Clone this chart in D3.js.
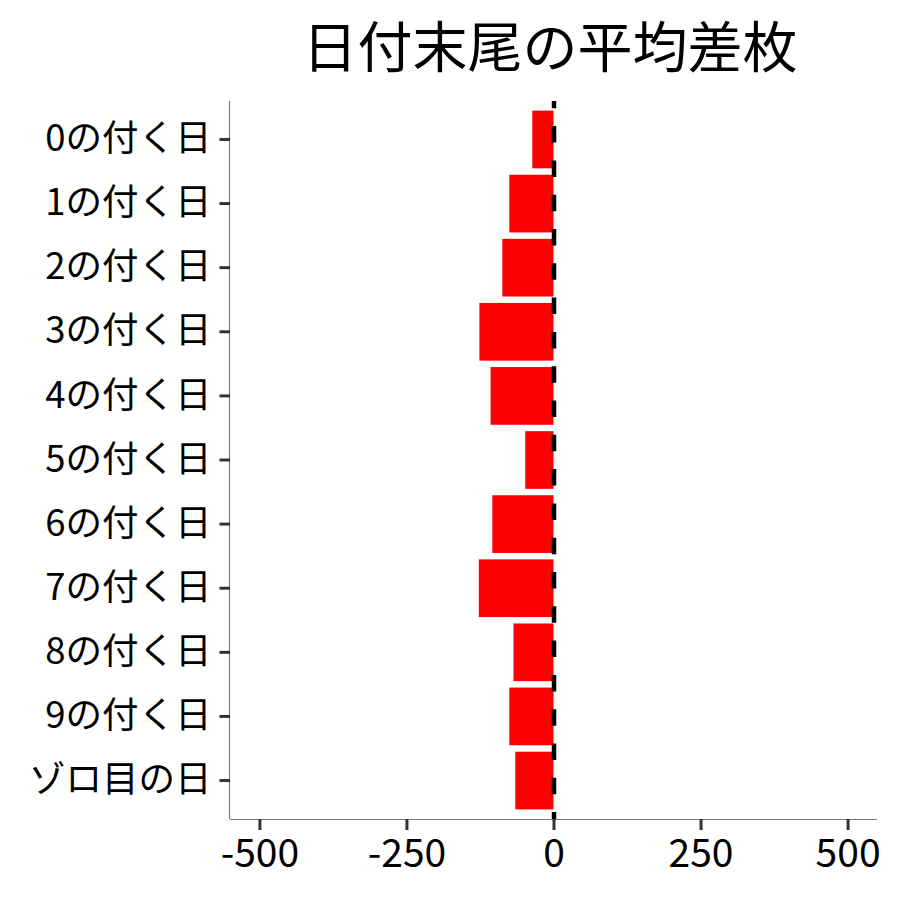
<!DOCTYPE html>
<html>
<head>
<meta charset="utf-8">
<script src="https://cdn.jsdelivr.net/npm/d3@7"></script>
<style>
  body { margin: 0; background: #fff; }
  text { font-family: "Noto Sans CJK JP", "Noto Sans", sans-serif; }
</style>
</head>
<body>
<div id="chart"></div>
<script>
const chartTitle = "日付末尾の平均差枚";
const categories = ["0の付く日", "1の付く日", "2の付く日", "3の付く日", "4の付く日",
  "5の付く日", "6の付く日", "7の付く日", "8の付く日", "9の付く日", "ゾロ目の日"];
const avgDiff = [-36, -75, -87, -126, -107, -48, -104, -127, -68, -75, -65];
const xTicks = [-500, -250, 0, 250, 500];

const width = 900, height = 900;
const panel = { left: 230, right: 877, top: 101, bottom: 819 };

const svg = d3.select("#chart").append("svg")
  .attr("width", width)
  .attr("height", height);

const x = d3.scaleLinear()
  .domain([-550, 550])
  .range([panel.left, panel.right]);

const y = d3.scaleBand()
  .domain(categories)
  .range([panel.top, panel.bottom])
  .paddingInner(0.1)
  .paddingOuter(0.15);

// bars
svg.append("g")
  .selectAll("rect")
  .data(categories)
  .join("rect")
  .attr("x", (d, i) => x(Math.min(0, avgDiff[i])))
  .attr("width", (d, i) => Math.abs(x(avgDiff[i]) - x(0)))
  .attr("y", d => y(d))
  .attr("height", y.bandwidth())
  .attr("fill", "#ff0000");

// zero reference line
svg.append("line")
  .attr("x1", x(0) + 0.5).attr("x2", x(0) + 0.5)
  .attr("y1", panel.top).attr("y2", panel.bottom)
  .attr("stroke", "#000")
  .attr("stroke-width", 4.5)
  .attr("stroke-dasharray", "16.5,17.8")
  .attr("stroke-dashoffset", 9.2);

// axes
const xAxis = svg.append("g")
  .attr("transform", `translate(0,${panel.bottom})`)
  .call(d3.axisBottom(x).tickValues(xTicks).tickSize(11).tickPadding(9).tickFormat(d => String(d)));

const yAxis = svg.append("g")
  .attr("transform", `translate(${panel.left},0)`)
  .call(d3.axisLeft(y).tickSize(10.5).tickPadding(8));

[xAxis, yAxis].forEach(g => {
  g.select(".domain").attr("stroke", "#7a7a7a").attr("stroke-width", 1.2);
  g.selectAll(".tick line").attr("stroke", "#333").attr("stroke-width", 3);
  g.selectAll(".tick text")
    .attr("fill", "#000")
    .style("font-size", "36.5px")
    .style("font-family", "'Noto Sans CJK JP', sans-serif");
});
xAxis.selectAll(".tick text").style("font-size", "39px");
xAxis.select(".domain").attr("d", `M${panel.left},0.5H${panel.right}`);
yAxis.select(".domain").attr("d", `M-0.5,${panel.top}V${panel.bottom}`);

// title
svg.append("text")
  .attr("x", 550)
  .attr("y", 67)
  .attr("text-anchor", "middle")
  .style("font-size", "55px")
  .attr("fill", "#000")
  .text(chartTitle);
</script>
</body>
</html>
